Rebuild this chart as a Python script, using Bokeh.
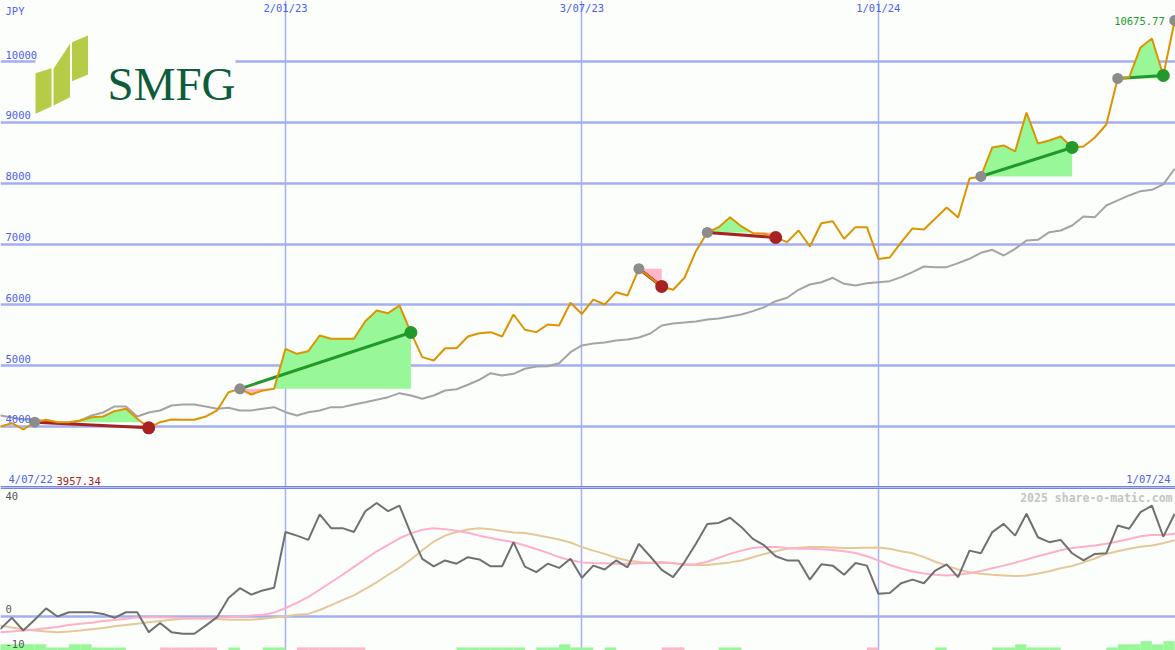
import numpy as np
import pandas as pd
from bokeh.plotting import figure
from bokeh.layouts import column
from bokeh.models import Range1d, FixedTicker, ColumnDataSource
from bokeh.core.properties import value
from bokeh.embed import file_html
from bokeh.resources import INLINE

# ---------------- data ----------------
week_dates = pd.date_range("2022-07-04", "2024-07-01", freq="7D")  # weekly closes

price = [3957.34, 4000, 4054, 3951, 4071, 4110, 4071, 4071, 4099, 4153, 4164, 4252, 4291, 4126, 3978,
         4071, 4115, 4110, 4110, 4164, 4263, 4564, 4619, 4526, 4592, 4619, 5277, 5195, 5238, 5496,
         5442, 5442, 5442, 5731, 5907, 5863, 5989, 5545, 5140, 5085, 5287, 5287, 5480, 5534, 5551,
         5480, 5841, 5590, 5551, 5677, 5660, 6034, 5850, 6085, 6006, 6208, 6153, 6593, 6450, 6302,
         6247, 6445, 6882, 7190, 7277, 7441, 7288, 7178, 7168, 7107, 7030, 7222, 6959, 7342, 7375,
         7086, 7277, 7277, 6755, 6778, 7025, 7255, 7239, 7420, 7600, 7436, 8077, 8110, 8587, 8620,
         8521, 9162, 8653, 8702, 8768, 8587, 8603, 8751, 8965, 9721, 9737, 10231, 10379, 9770, 10675.77]

avg_line = [4200, 4181, 4148, 4115, 4115, 4082, 4049, 4049, 4099, 4181, 4230, 4329, 4329, 4164, 4230,
            4263, 4345, 4362, 4362, 4329, 4291, 4307, 4263, 4263, 4291, 4318, 4235, 4181, 4235, 4263,
            4318, 4318, 4362, 4400, 4439, 4482, 4548, 4510, 4455, 4510, 4592, 4613, 4686, 4768, 4876,
            4838, 4866, 4949, 4986, 4991, 5041, 5221, 5332, 5365, 5381, 5414, 5430, 5463, 5529, 5660,
            5693, 5710, 5726, 5759, 5775, 5808, 5841, 5896, 5962, 6060, 6116, 6247, 6334, 6372, 6445,
            6346, 6318, 6356, 6372, 6389, 6455, 6537, 6630, 6619, 6619, 6685, 6757, 6856, 6905, 6811,
            6921, 7058, 7069, 7194, 7222, 7304, 7452, 7441, 7633, 7716, 7798, 7869, 7891, 7979, 8237]

osc = [-2.0, -3.8, -0.4, -4.3, -1.0, 2.5, 0.0, 1.3, 1.3, 1.3, 0.8, -0.4, 1.3, 1.3, -4.8,
       -2.0, -4.8, -5.3, -5.3, -2.8, -0.2, 5.7, 8.7, 6.7, 8.0, 8.8, 25.9, 24.8, 23.5, 31.3,
       27.1, 27.1, 25.9, 32.3, 34.8, 32.3, 34.0, 25.4, 17.7, 15.4, 17.2, 16.2, 18.2, 17.5, 15.4,
       15.4, 22.8, 15.3, 13.6, 16.2, 14.9, 17.7, 11.9, 15.6, 14.4, 17.2, 15.1, 22.3, 18.4, 14.3,
       12.1, 16.7, 22.3, 28.4, 28.7, 30.3, 27.4, 23.8, 21.8, 18.5, 17.2, 17.2, 11.3, 16.0, 15.6,
       12.8, 16.4, 15.6, 7.0, 7.2, 10.2, 11.3, 10.2, 14.1, 16.0, 12.1, 20.2, 19.4, 25.9, 28.4,
       24.8, 31.5, 24.3, 22.8, 23.5, 19.4, 17.2, 19.2, 19.4, 27.9, 26.9, 32.0, 34.0, 24.5, 31.5]

osc_fast = [-5.0, -4.8, -4.6, -4.3, -4.0, -3.6, -3.2, -2.6, -2.2, -1.9, -1.4, -1.1, -0.7, -0.3, -0.2,
            -0.2, -0.3, -0.5, -0.6, -0.6, -0.4, -0.2, 0.0, 0.3, 0.5, 1.2, 2.6, 4.2, 6.0, 8.2,
            10.5, 12.8, 15.2, 17.6, 20.0, 22.0, 24.0, 25.5, 26.6, 27.1, 26.8, 26.3, 25.7, 24.8, 24.1,
            23.4, 22.8, 21.8, 20.7, 19.5, 18.2, 17.3, 16.6, 16.4, 16.3, 16.2, 16.2, 16.3, 16.5, 16.7,
            16.4, 15.8, 16.0, 16.8, 18.0, 19.2, 20.2, 21.0, 21.3, 21.3, 21.0, 20.8, 20.8, 20.6, 20.4,
            20.0, 19.5, 18.5, 17.2, 15.8, 14.7, 13.8, 13.2, 12.8, 12.6, 12.8, 13.3, 14.0, 14.8, 15.6,
            16.5, 17.5, 18.5, 19.4, 20.3, 21.0, 21.4, 21.8, 22.3, 23.0, 23.8, 24.6, 25.0, 25.0, 25.4]

osc_slow = [-2.5, -2.8, -3.4, -3.9, -4.3, -4.6, -4.8, -4.6, -4.3, -3.9, -3.5, -3.0, -2.6, -2.2, -1.8,
            -1.4, -1.0, -0.7, -0.5, -0.5, -0.8, -1.0, -1.0, -1.0, -0.7, -0.3, 0.1, 0.5, 0.8, 2.0,
            3.5, 5.0, 6.5, 8.5, 10.5, 12.8, 15.0, 17.5, 20.3, 23.0, 24.8, 25.9, 26.7, 27.1, 26.8,
            26.2, 25.8, 25.6, 25.0, 24.3, 23.6, 22.7, 21.3, 20.2, 19.2, 18.0, 17.2, 16.7, 16.4, 16.4,
            16.3, 16.0, 15.8, 15.8, 16.2, 16.6, 17.2, 18.2, 19.2, 20.0, 20.8, 21.1, 21.3, 21.3, 21.2,
            21.0, 21.0, 21.1, 21.2, 20.8, 20.0, 19.4, 18.2, 16.8, 15.6, 14.4, 13.6, 13.1, 12.8, 12.6,
            12.4, 12.6, 13.2, 13.9, 14.8, 15.5, 16.6, 17.8, 19.2, 20.0, 20.8, 21.4, 21.8, 22.5, 23.4]

flow_bars = [2, 2, 2, 2, 2, 1, 1, 2, 2, 1, 1, 1, 0, 0, 0,
             -1, -1, -1, -1, -1, 0, 1, 0, 0, 1, 1, 0, -1, -1, -1,
             -1, -1, -1, 0, 0, 0, 0, 0, 0, 0, 0, 1, 1, 1, 1,
             1, 1, 0, 1, 1, 2, 1, 1, 0, 1, 0, 0, 0, 0, -1,
             -1, 0, 0, 0, 1, 1, 0, 0, 0, 0, 0, 0, 0, 0, 0,
             0, 0, -1, 0, 0, 0, 0, 0, 1, 0, 0, 0, 0, 1, 1,
             2, 1, 1, 1, 0, 0, 0, 0, 1, 2, 2, 3, 2, 3, 0]

signal_start = [4, 22, 57, 63, 87, 99]
signal_end = [14, 37, 59, 69, 95, 103]

grid_dates = ["2023-01-02", "2023-07-03", "2024-01-01"]
grid_labels = ["2/01/23", "3/07/23", "1/01/24"]
price_ticks = [4000, 5000, 6000, 7000, 8000, 9000, 10000]
first_label, last_label = "4/07/22", "1/07/24"

# ---------------- geometry ----------------
WEEK = 7 * 24 * 3600 * 1000.0
x = week_dates.values.astype("datetime64[ms]").astype("int64").astype(float)
grid_ms = pd.to_datetime(grid_dates).values.astype("datetime64[ms]").astype("int64").astype(float).tolist()
X0 = x[1]
X1 = x[-1] + 0.07 * WEEK
Y0, Y1 = 2997, 11003
O0, O1 = -10.43, 39.57
W, H_TOP, H_BOT = 1175, 487, 163

BG = "#fcfefc"
GRID = "#a4aef2"
SEP = "#7583e8"
BLUE = "#4d5ff0"
GREEN_FILL = "#98f898"
PINK_FILL = "#ffb6c8"
UP = "#22992a"
DOWN = "#a82222"
MONO = value("DejaVu Sans Mono")

xr = Range1d(X0, X1)


def mkfig(h, y0, y1):
    f = figure(width=W, height=h, x_range=xr, y_range=Range1d(y0, y1),
               x_axis_location=None, y_axis_location=None, toolbar_location=None,
               output_backend="svg", min_border=0, background_fill_color=BG,
               border_fill_color=BG, outline_line_color=None)
    f.xgrid.ticker = FixedTicker(ticks=grid_ms)
    f.xgrid.grid_line_color = GRID
    f.xgrid.grid_line_width = 1.5
    return f


# ---------------- top panel ----------------
p = mkfig(H_TOP, Y0, Y1)
p.ygrid.ticker = FixedTicker(ticks=price_ticks)
p.ygrid.grid_line_color = GRID
p.ygrid.grid_line_width = 2.5


def ref_pt(px, py):
    return X0 + px / 1175.0 * (X1 - X0), Y1 - py / 487.0 * (Y1 - Y0)


# logo (white box over grid, three panels, wordmark)
bx0, by0 = ref_pt(35, 52)
bx1, by1 = ref_pt(235, 116)
p.quad(left=[bx0], right=[bx1], top=[by0], bottom=[by1], fill_color=BG, line_color=None)
panels = [[(35, 72.7), (51, 67.7), (51, 106), (35, 113.3)],
          [(53, 68.3), (69.5, 43.3), (69.5, 96.7), (53, 105)],
          [(71.5, 41.7), (87.5, 35), (87.5, 74), (71.5, 80.7)]]
pxs, pys = [], []
for poly in panels:
    pts = [ref_pt(a, b) for a, b in poly]
    pxs.append([q_[0] for q_ in pts])
    pys.append([q_[1] for q_ in pts])
p.patches(pxs, pys, fill_color="#b6cc46", line_color=None)
lx, ly = ref_pt(107, 83)
p.text(x=[lx], y=[ly], text=["SMFG"], text_font=value("Liberation Serif"),
       text_font_size="47px", text_color="#0d5c3a", text_baseline="alphabetic")

# signal fills
price_arr = np.array(price, dtype=float)
for s, e in zip(signal_start, signal_end):
    L = price_arr[s]
    xs, ys = [], []
    for k in range(s, e):
        xs.append(x[k]); ys.append(price_arr[k])
        a, b = price_arr[k] - L, price_arr[k + 1] - L
        if a * b < 0:
            t = a / (a - b)
            xs.append(x[k] + t * (x[k + 1] - x[k])); ys.append(L)
    xs.append(x[e]); ys.append(price_arr[e])
    ys = np.array(ys)
    base = np.full(len(ys), L)
    p.varea(x=xs, y1=base, y2=np.maximum(ys, L), fill_color=GREEN_FILL)
    p.varea(x=xs, y1=np.minimum(ys, L), y2=base, fill_color=PINK_FILL)

p.line(x, avg_line, line_color="#a4a4a4", line_width=2)

seg = ColumnDataSource(dict(
    x0=[x[s] for s in signal_start], y0=[price[s] for s in signal_start],
    x1=[x[e] for e in signal_end], y1=[price[e] for e in signal_end],
    c=[UP if price[e] > price[s] else DOWN for s, e in zip(signal_start, signal_end)]))
p.segment(x0="x0", y0="y0", x1="x1", y1="y1", line_color="c", line_width=3, source=seg)

p.line(x, price, line_color="#dc9400", line_width=2)

p.scatter(x=[x[s] for s in signal_start] + [x[-1]],
          y=[price[s] for s in signal_start] + [price[-1]],
          marker="circle", size=11, fill_color="#8c8c8c", line_color=None)
p.scatter(x="x1", y="y1", marker="circle", size=13, fill_color="c", line_color=None, source=seg)

# texts
p.text(x=[X0] * len(price_ticks), y=price_ticks, text=[str(v) for v in price_ticks],
       text_font=MONO, text_font_size="10.5px", text_color=BLUE, text_baseline="bottom",
       x_offset=5, y_offset=-3)
jx, jy = ref_pt(5, 4)
p.text(x=[jx], y=[jy], text=["JPY"], text_font=MONO, text_font_size="10.5px",
       text_color=BLUE, text_baseline="top")
p.text(x=grid_ms, y=[Y1] * 3, text=grid_labels, text_font=MONO, text_font_size="10.5px",
       text_color=BLUE, text_baseline="top", text_align="center", y_offset=1)
p.text(x=[X0], y=[Y0], text=[first_label], text_font=MONO, text_font_size="10.5px",
       text_color=BLUE, text_baseline="bottom", x_offset=8, y_offset=-3)
p.text(x=[X0], y=[Y0], text=["%.2f" % price[0]], text_font=MONO, text_font_size="10.5px",
       text_color=DOWN, text_baseline="bottom", x_offset=56, y_offset=-3)
p.text(x=[X1], y=[Y0], text=[last_label], text_font=MONO, text_font_size="10.5px",
       text_color=BLUE, text_baseline="bottom", text_align="right", x_offset=-5, y_offset=-3)
p.text(x=[x[-1]], y=[price[-1]], text=["%.2f" % price[-1]], text_font=MONO,
       text_font_size="10.5px", text_color=UP, text_baseline="middle", text_align="right",
       x_offset=-10, y_offset=1)
p.hspan(y=[Y0], line_color=SEP, line_width=3)

# ---------------- bottom panel ----------------
q = mkfig(H_BOT, O0, O1)
q.ygrid.ticker = FixedTicker(ticks=[0])
q.ygrid.grid_line_color = GRID
q.ygrid.grid_line_width = 2.5
q.hspan(y=[O1], line_color=SEP, line_width=3)

fb = np.array(flow_bars, dtype=float)
bar_src = ColumnDataSource(dict(
    left=x, right=x + WEEK, bottom=np.full(len(fb), O0), top=O0 + 0.95 * np.abs(fb),
    c=[GREEN_FILL if v > 0 else (PINK_FILL if v < 0 else BG) for v in fb]))
q.quad(left="left", right="right", bottom="bottom", top="top", fill_color="c",
       line_color=None, source=bar_src)

q.line(x, osc_slow, line_color="#e6c898", line_width=2)
q.line(x, osc_fast, line_color="#ffb0c8", line_width=2)
q.line(x, osc, line_color="#707070", line_width=2)

GT = "#555555"
q.text(x=[X0], y=[O1], text=["40"], text_font=MONO, text_font_size="10.5px", text_color=GT,
       text_baseline="top", x_offset=5, y_offset=4)
q.text(x=[X0, X0], y=[0, O0], text=["0", "-10"], text_font=MONO, text_font_size="10.5px",
       text_color=GT, text_baseline="bottom", x_offset=5, y_offset=-3)
q.text(x=[X1], y=[O1], text=["2025 share-o-matic.com"], text_font=MONO,
       text_font_size="11.5px", text_font_style="bold", text_color="#c4c4c4",
       text_baseline="top", text_align="right", x_offset=-3, y_offset=3)

layout = column(p, q, spacing=0)
open("out.html", "w").write(file_html(layout, INLINE))
